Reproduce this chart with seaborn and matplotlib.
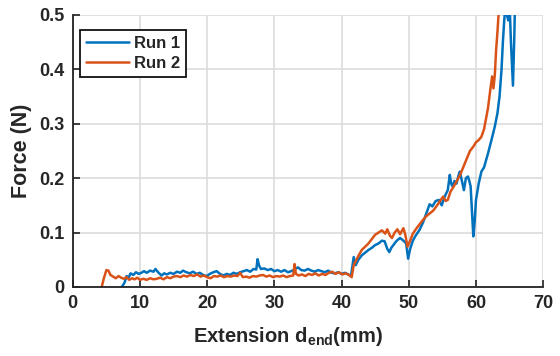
"""
Force vs. extension for two pull-out runs (MATLAB-style recreation).
"""

import matplotlib
matplotlib.use("Agg")
import matplotlib.pyplot as plt
import pandas as pd
import seaborn as sns

# ── Data ───────────────────────────────────────────────────────────────
run1_x = [
    7.3, 7.7, 8.0, 8.3, 8.6, 9.0, 9.4, 9.8, 10.2, 10.6, 11.0, 11.5, 12.0, 12.3,
    12.7, 13.2, 13.6, 14.0, 14.5, 15.0, 15.5, 16.0, 16.4, 16.9, 17.4, 17.9,
    18.4, 18.9, 19.4, 19.9, 20.4, 20.9, 21.4, 21.9, 22.4, 22.9, 23.4, 23.9,
    24.4, 24.9, 25.4, 25.9, 26.4, 26.9, 27.3, 27.5, 27.7, 28.0, 28.5, 29.0,
    29.5, 30.0, 30.5, 31.0, 31.5, 32.0, 32.5, 33.0, 33.5, 34.0, 34.5, 35.0,
    35.5, 36.0, 36.5, 37.0, 37.5, 38.0, 38.5, 39.0, 39.5, 40.0, 40.5, 41.0,
    41.4, 41.8, 42.1, 42.5, 43.0, 43.5, 44.0, 44.5, 45.0, 45.5, 46.0, 46.4,
    46.8, 47.1, 47.4, 47.7, 48.2, 48.7, 49.2, 49.6, 49.9, 50.2, 50.6, 51.0,
    51.6, 52.1, 52.6, 53.1, 53.5, 54.0, 54.5, 54.9, 55.3, 55.8, 56.1, 56.3,
    56.5, 56.8, 57.1, 57.4, 57.6, 57.9, 58.2, 58.5, 58.8, 59.0, 59.2, 59.4,
    59.6, 59.8, 60.0, 60.4, 60.8, 61.2, 61.8, 62.3, 62.8, 63.2, 63.5, 63.8,
    64.0, 64.2, 64.4, 64.6, 64.8, 65.0, 65.2, 65.5, 65.7, 65.8, 66.0,
]
run1_y = [
    0.0, 0.008, 0.02, 0.017, 0.025, 0.022, 0.027, 0.024, 0.026, 0.029, 0.026,
    0.03, 0.028, 0.033, 0.027, 0.021, 0.025, 0.023, 0.026, 0.024, 0.028, 0.026,
    0.03, 0.027, 0.025, 0.028, 0.024, 0.026, 0.022, 0.02, 0.024, 0.027, 0.029,
    0.024, 0.021, 0.024, 0.022, 0.026, 0.024, 0.027, 0.029, 0.031, 0.028,
    0.033, 0.032, 0.051, 0.04, 0.033, 0.034, 0.031, 0.033, 0.029, 0.031,
    0.028, 0.031, 0.027, 0.029, 0.032, 0.036, 0.031, 0.03, 0.033, 0.03, 0.028,
    0.031, 0.029, 0.027, 0.03, 0.026, 0.025, 0.027, 0.024, 0.026, 0.023, 0.02,
    0.055, 0.04, 0.05, 0.058, 0.063, 0.068, 0.072, 0.077, 0.08, 0.085, 0.084,
    0.07, 0.064, 0.072, 0.077, 0.085, 0.09, 0.085, 0.08, 0.052, 0.07, 0.085,
    0.094, 0.105, 0.118, 0.135, 0.152, 0.148, 0.158, 0.16, 0.15, 0.165, 0.178,
    0.206, 0.19, 0.185, 0.195, 0.19, 0.205, 0.212, 0.195, 0.178, 0.2, 0.203,
    0.195, 0.185, 0.14, 0.093, 0.12, 0.16, 0.19, 0.212, 0.22, 0.246, 0.27,
    0.295, 0.32, 0.35, 0.4, 0.45, 0.49, 0.52, 0.5, 0.49, 0.52, 0.45, 0.37,
    0.46, 0.52, 0.55,
]

run2_x = [
    4.3, 4.6, 5.0, 5.3, 5.6, 6.0, 6.4, 6.8, 7.2, 7.6, 8.0, 8.4, 8.8, 9.2, 9.6,
    10.0, 10.5, 11.0, 11.5, 12.0, 12.5, 13.0, 13.5, 14.0, 14.5, 15.0, 15.5,
    16.0, 16.5, 17.0, 17.5, 18.0, 18.5, 19.0, 19.5, 20.0, 20.5, 21.0, 21.5,
    22.0, 22.5, 23.0, 23.5, 24.0, 24.5, 24.9, 25.3, 25.8, 26.3, 26.8, 27.3,
    27.8, 28.3, 28.8, 29.3, 29.8, 30.3, 30.8, 31.3, 31.8, 32.3, 32.8, 33.0,
    33.2, 33.6, 34.1, 34.6, 35.1, 35.6, 36.1, 36.6, 37.1, 37.6, 38.1, 38.6,
    39.1, 39.6, 40.1, 40.6, 41.1, 41.5, 41.8, 42.2, 42.5, 43.0, 43.5, 44.0,
    44.5, 45.0, 45.5, 46.0, 46.5, 46.8, 47.2, 47.5, 47.9, 48.3, 48.7, 49.2,
    49.5, 49.8, 50.2, 50.6, 51.1, 51.6, 52.1, 52.6, 53.1, 53.6, 54.1, 54.6,
    55.1, 55.5, 55.8, 56.2, 56.7, 57.1, 57.6, 58.1, 58.6, 59.1, 59.6, 60.0,
    60.4, 60.8, 61.2, 61.5, 61.8, 62.1, 62.4, 62.6, 62.8, 63.0, 63.2, 63.4,
    63.6,
]
run2_y = [
    0.0, 0.015, 0.031, 0.03, 0.022, 0.019, 0.016, 0.02, 0.017, 0.015, 0.018,
    0.013, 0.016, 0.014, 0.017, 0.013, 0.015, 0.013, 0.016, 0.014, 0.015,
    0.017, 0.014, 0.018, 0.016, 0.019, 0.02, 0.018, 0.021, 0.019, 0.022, 0.02,
    0.023, 0.019, 0.021, 0.018, 0.016, 0.02, 0.019, 0.021, 0.018, 0.02, 0.019,
    0.021, 0.02, 0.026, 0.018, 0.019, 0.017, 0.02, 0.019, 0.021, 0.022, 0.019,
    0.021, 0.018, 0.02, 0.019, 0.021, 0.018, 0.02, 0.021, 0.042, 0.024, 0.021,
    0.023, 0.02, 0.024, 0.022, 0.025, 0.021, 0.024, 0.022, 0.026, 0.028,
    0.024, 0.027, 0.023, 0.025, 0.022, 0.018, 0.04, 0.05, 0.057, 0.068, 0.074,
    0.08, 0.088, 0.096, 0.1, 0.104, 0.098, 0.106, 0.094, 0.09, 0.1, 0.106,
    0.097, 0.108, 0.095, 0.074, 0.085, 0.098, 0.107, 0.115, 0.123, 0.13,
    0.135, 0.14, 0.148, 0.157, 0.166, 0.158, 0.16, 0.175, 0.185, 0.194, 0.205,
    0.22, 0.235, 0.25, 0.258, 0.266, 0.27, 0.276, 0.29, 0.31, 0.33, 0.36,
    0.387, 0.365, 0.39, 0.437, 0.47, 0.51, 0.55,
]

run_labels = ["Run 1", "Run 2"]
run_colors = ["#0072BD", "#D95319"]
x_ticks = [0, 10, 20, 30, 40, 50, 60, 70]
y_ticks = [0, 0.1, 0.2, 0.3, 0.4, 0.5]
y_tick_labels = ["0", "0.1", "0.2", "0.3", "0.4", "0.5"]

# ── Style ──────────────────────────────────────────────────────────────
sns.set_theme(style="whitegrid")
plt.rcParams["font.family"] = ["Liberation Sans", "DejaVu Sans"]
plt.rcParams["font.weight"] = "bold"
plt.rcParams["mathtext.fontset"] = "custom"
plt.rcParams["mathtext.rm"] = "Liberation Sans:bold"
plt.rcParams["mathtext.bf"] = "Liberation Sans:bold"
plt.rcParams["text.color"] = "#262626"


def main() -> None:
    df = pd.concat(
        [
            pd.DataFrame({"x": run1_x, "y": run1_y, "run": run_labels[0]}),
            pd.DataFrame({"x": run2_x, "y": run2_y, "run": run_labels[1]}),
        ],
        ignore_index=True,
    )

    fig = plt.figure(figsize=(5.6, 3.56), dpi=100)
    ax = fig.add_axes([0.130, 0.194, 0.840, 0.764])

    sns.lineplot(
        data=df,
        x="x",
        y="y",
        hue="run",
        palette=run_colors,
        estimator=None,
        sort=False,
        linewidth=1.8,
        ax=ax,
    )

    ax.set_xlim(0, 70)
    ax.set_ylim(0, 0.5)
    ax.set_xticks(x_ticks)
    ax.set_yticks(y_ticks)
    ax.set_yticklabels(y_tick_labels)

    ax.grid(True, color="#dcdcdc", linewidth=1.2)
    for side in ["top", "right"]:
        ax.spines[side].set_visible(False)
    for side in ["left", "bottom"]:
        ax.spines[side].set_color("#222222")
        ax.spines[side].set_linewidth(1.3)
    ax.tick_params(
        axis="both", direction="in", length=5, width=1.2,
        colors="#222222", labelcolor="#262626", labelsize=13,
        bottom=True, left=True, pad=6,
    )
    for lbl in ax.get_xticklabels() + ax.get_yticklabels():
        lbl.set_fontweight("bold")

    ax.set_xlabel(r"Extension d$_{\mathbf{end}}$(mm)", fontsize=14.5,
                  fontweight="bold")
    ax.xaxis.set_label_coords(0.457, -0.14)
    ax.set_ylabel("Force (N)", fontsize=15.5, fontweight="bold", labelpad=5)

    ax.legend(
        title=None,
        loc="upper left",
        bbox_to_anchor=(0.015, 0.945),
        borderaxespad=0,
        fancybox=False,
        framealpha=1,
        edgecolor="#111111",
        prop={"weight": "bold", "size": 12},
        handlelength=2.6,
        handletextpad=0.3,
        labelspacing=0.3,
        borderpad=0.35,
    )
    ax.get_legend().get_frame().set_linewidth(1.3)

    fig.savefig("out.png", dpi=100)
    plt.close(fig)


if __name__ == "__main__":
    main()
